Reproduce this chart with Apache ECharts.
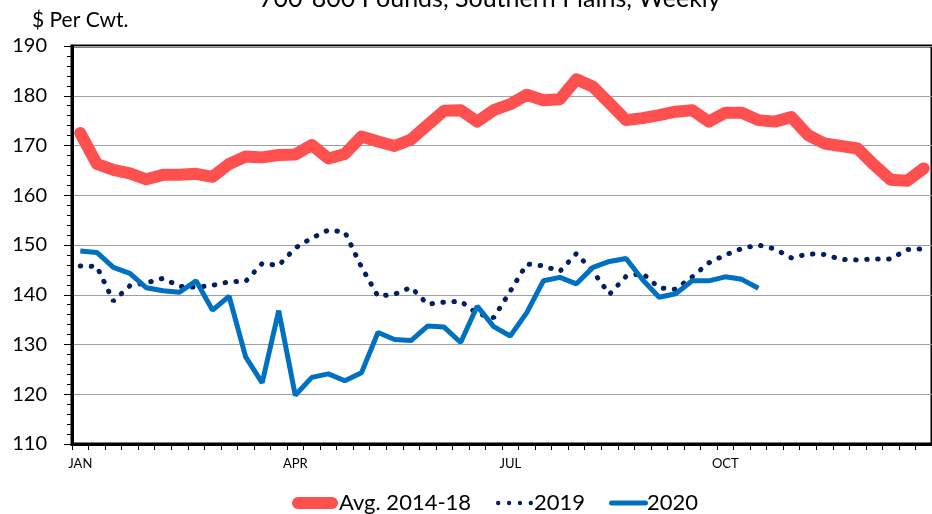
<!DOCTYPE html>
<html>
<head>
<meta charset="utf-8">
<script src="https://cdn.jsdelivr.net/npm/echarts@6/dist/echarts.min.js"></script>
<style>
  html, body { margin: 0; padding: 0; background: #fff; }
  #chart { width: 932px; height: 514px; }
</style>
</head>
<body>
<div id="chart"></div>
<script>
// weekly steer prices, $ per cwt
var weeks = [];
for (var w = 1; w <= 52; w++) { weeks.push('W' + w); }

// labels shown under the x axis (by week index)
var monthLabels = { 0: 'JAN', 13: 'APR', 26: 'JUL', 39: 'OCT' };

var avg1418 = [
  172.5, 166.3, 165.1, 164.4, 163.2, 164.1, 164.1, 164.3, 163.7, 166.3,
  167.8, 167.6, 168.1, 168.2, 170.1, 167.4, 168.3, 171.8, 170.8, 169.9,
  171.2, 174.1, 177.0, 177.1, 174.8, 177.1, 178.3, 180.2, 179.1, 179.3,
  183.3, 181.8, 178.5, 175.1, 175.5, 176.1, 176.8, 177.1, 174.8, 176.6,
  176.6, 175.1, 174.8, 175.7, 172.1, 170.4, 169.9, 169.4, 166.1, 163.1,
  162.9, 165.4
];

var y2019 = [
  145.8, 145.7, 138.7, 141.8, 142.4, 143.3, 141.7, 141.5, 141.9, 142.6,
  142.7, 146.3, 145.9, 149.4, 151.4, 153.0, 152.6, 145.6, 139.7, 140.1,
  141.5, 138.1, 138.5, 138.7, 136.2, 135.4, 140.7, 146.2, 145.8, 144.7,
  148.3, 144.7, 140.1, 143.7, 144.3, 141.4, 141.1, 143.6, 146.4, 148.0,
  149.3, 150.0, 149.2, 147.4, 148.2, 148.1, 147.1, 147.0, 147.2, 147.2,
  149.1, 149.2
];

var y2020 = [
  148.8, 148.5, 145.5, 144.3, 141.4, 140.8, 140.5, 142.8, 136.9, 139.7,
  127.5, 122.3, 136.8, 119.8, 123.4, 124.1, 122.7, 124.3, 132.4, 131.0,
  130.8, 133.7, 133.5, 130.4, 137.7, 133.6, 131.7, 136.4, 142.8, 143.5,
  142.2, 145.5, 146.7, 147.3, 143.0, 139.5, 140.2, 142.8, 142.8, 143.6,
  143.1, 141.3
];

var font = 'Lato';
var legendText = { fontFamily: font, fontSize: 22, color: '#000', padding: [0, 0, 0, -4] };

// legend icon shapes
var pillWide = 'path://M6,0H40A6,6 0 0 1 40,12H6A6,6 0 0 1 6,0Z';
var pillThin = 'path://M2.5,0H36.5A2.5,2.5 0 0 1 36.5,5H2.5A2.5,2.5 0 0 1 2.5,0Z';
var dots = 'path://M0,2a2,2 0 1,0 4,0a2,2 0 1,0 -4,0Z' +
  'M10,2a2,2 0 1,0 4,0a2,2 0 1,0 -4,0Z' +
  'M20,2a2,2 0 1,0 4,0a2,2 0 1,0 -4,0Z' +
  'M30,2a2,2 0 1,0 4,0a2,2 0 1,0 -4,0Z';

var chart = echarts.init(document.getElementById('chart'));

var option = {
  animation: false,
  backgroundColor: '#fff',
  textStyle: { fontFamily: font, color: '#000' },
  title: [{
    text: '700-800 Pounds, Southern Plains, Weekly',
    left: 254,
    top: -19,
    textStyle: { fontFamily: font, fontSize: 25, fontWeight: 'normal', color: '#000' }
  }, {
    text: '$ Per Cwt.',
    left: 27,
    top: 5,
    textStyle: { fontFamily: font, fontSize: 21, fontWeight: 'normal', color: '#000' }
  }],
  grid: {
    left: 72,
    top: 46,
    bottom: 70,
    right: -6.7,
    show: true,
    borderColor: '#000',
    borderWidth: 3,
    backgroundColor: 'transparent'
  },
  legend: [{
    left: 287, top: 487,
    itemWidth: 46, itemHeight: 12,
    icon: pillWide,
    itemStyle: { borderWidth: 0 },
    textStyle: legendText,
    data: ['Avg. 2014-18']
  }, {
    left: 491, top: 487,
    itemWidth: 37, itemHeight: 4.5,
    icon: dots,
    itemStyle: { borderWidth: 0 },
    textStyle: legendText,
    data: ['2019']
  }, {
    left: 604, top: 487,
    itemWidth: 39, itemHeight: 5,
    icon: pillThin,
    itemStyle: { borderWidth: 0 },
    textStyle: Object.assign({}, legendText, { padding: [0, 0, 0, -6] }),
    data: ['2020']
  }],
  xAxis: {
    type: 'category',
    data: weeks,
    boundaryGap: true,
    axisLine: { lineStyle: { color: '#000', width: 3 } },
    axisTick: { show: true, interval: 0, length: 6, lineStyle: { color: '#000', width: 1 } },
    axisLabel: {
      interval: 0,
      margin: 13,
      fontSize: 13,
      fontFamily: font,
      color: '#000',
      formatter: function (v, i) { return monthLabels[i] || ''; }
    },
    splitLine: { show: false }
  },
  yAxis: {
    type: 'value',
    min: 110,
    max: 190,
    interval: 10,
    axisLine: { show: true, lineStyle: { color: '#000', width: 3 } },
    axisTick: { show: true, length: 8, lineStyle: { color: '#000', width: 1 } },
    minorTick: { show: true, splitNumber: 5, length: 5, lineStyle: { color: '#000', width: 1 } },
    axisLabel: { margin: 25, fontSize: 20, fontFamily: font, color: '#000' },
    splitLine: { show: true, lineStyle: { color: '#a0a0a0', width: 1 } }
  },
  series: [{
    name: 'Avg. 2014-18',
    type: 'line',
    data: avg1418,
    showSymbol: false,
    symbol: 'none',
    itemStyle: { color: '#FF5050' },
    lineStyle: { color: '#FF5050', width: 12, cap: 'round', join: 'round' }
  }, {
    name: '2019',
    type: 'line',
    data: y2019,
    showSymbol: false,
    symbol: 'none',
    itemStyle: { color: '#002060' },
    lineStyle: { color: '#002060', width: 5, type: [0.5, 10.5], cap: 'round' }
  }, {
    name: '2020',
    type: 'line',
    data: y2020,
    showSymbol: false,
    symbol: 'none',
    itemStyle: { color: '#0070C0' },
    lineStyle: { color: '#0070C0', width: 5 }
  }]
};

chart.setOption(option);
</script>
</body>
</html>
